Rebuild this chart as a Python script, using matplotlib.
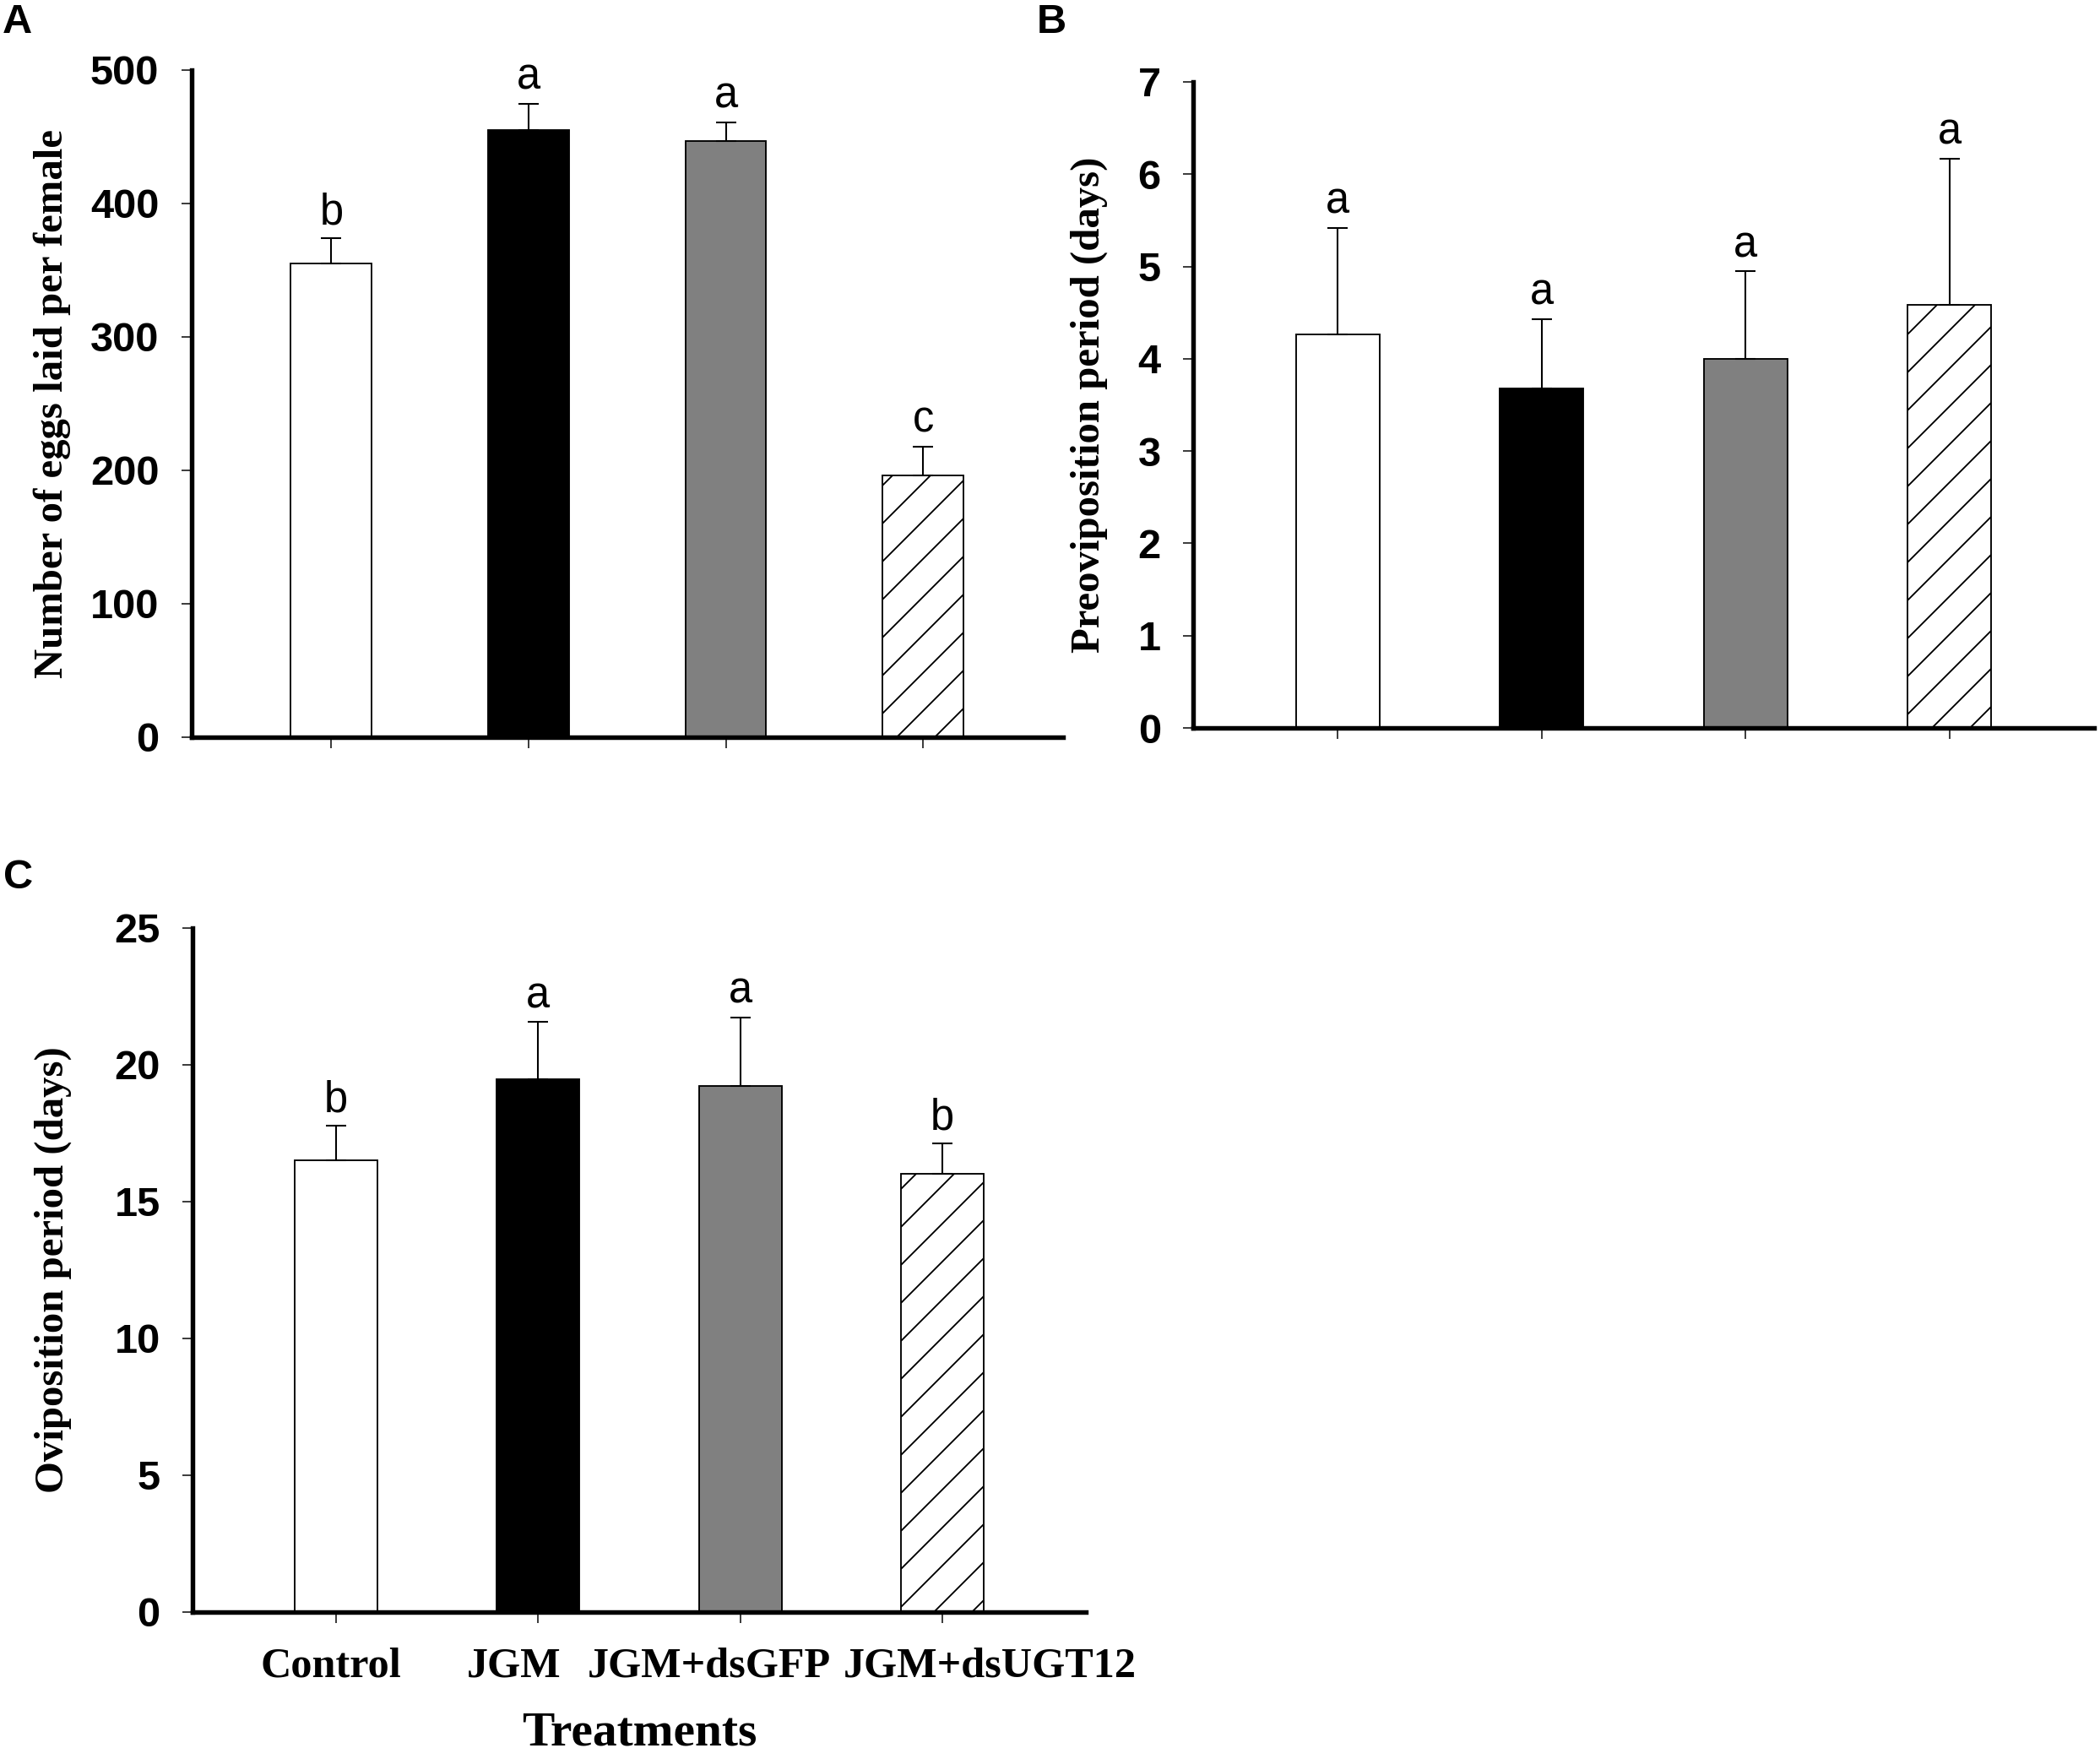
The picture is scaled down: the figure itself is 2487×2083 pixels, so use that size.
import matplotlib
matplotlib.use('Agg')
import matplotlib.pyplot as plt
from matplotlib.transforms import ScaledTranslation

# ---------------- data ----------------
treatments = ['Control', 'JGM', 'JGM+dsGFP', 'JGM+dsUGT12']

eggs_mean = [355, 455, 447, 196]
eggs_err = [19, 20, 14, 22]
eggs_letters = ['b', 'a', 'a', 'c']

preovi_mean = [4.26, 3.68, 4.00, 4.58]
preovi_err = [1.16, 0.75, 0.95, 1.59]
preovi_letters = ['a', 'a', 'a', 'a']

ovi_mean = [16.5, 19.47, 19.23, 16.02]
ovi_err = [1.27, 2.10, 2.51, 1.11]
ovi_letters = ['b', 'a', 'a', 'b']

eggs_ticks = [0, 100, 200, 300, 400, 500]
preovi_ticks = [0, 1, 2, 3, 4, 5, 6, 7]
ovi_ticks = [0, 5, 10, 15, 20, 25]

bar_colors = ['white', 'black', '#808080', 'white']
bar_hatches = ['', '', '', '//']

# horizontal shift (points) of category labels, as placed in the original figure
label_shift_pt = [-1.6, -7.7, -9.9, 14.9]

# ---------------- style ----------------
DPI = 270
W, H = 2487, 2083
plt.rcParams['hatch.linewidth'] = 0.5
SANS = 'Liberation Sans'
SERIF = 'Liberation Serif'

fig = plt.figure(figsize=(W / DPI, H / DPI), dpi=DPI)


def px_axes(left, right, bottom, top):
    return fig.add_axes([left / W, 1 - bottom / H, (right - left) / W, (bottom - top) / H])


def draw_panel(ax, means, errs, letters, ticks, ylabel, label_x, letter_off=4.5):
    x = list(range(len(treatments)))
    ax.bar(x, means, width=0.41, color=bar_colors, edgecolor='black',
           linewidth=0.5, hatch=bar_hatches, zorder=2)
    ax.errorbar(x, means, yerr=[[0] * len(errs), errs], fmt='none', ecolor='black',
                elinewidth=0.55, capsize=3.1, capthick=0.55, zorder=3)
    for xi, m, e, lt in zip(x, means, errs, letters):
        ax.annotate(lt, (xi, m + e), xytext=(0, letter_off), textcoords='offset points',
                    ha='center', va='baseline', fontsize=13.5, family=SANS)
    ax.set_xlim(-0.71, 3.71)
    ax.set_ylim(ticks[0], ticks[-1])
    ax.set_yticks(ticks)
    ax.set_yticklabels([str(t) for t in ticks], fontsize=13, fontweight='bold', family=SANS)
    ax.set_xticks(x)
    for s in ['top', 'right']:
        ax.spines[s].set_visible(False)
    for s in ['left', 'bottom']:
        ax.spines[s].set_linewidth(1.45)
    ax.tick_params(axis='y', direction='out', length=3.2, width=0.4, pad=7)
    ax.tick_params(axis='x', direction='out', length=3.5, width=0.4, pad=7.5)
    ax.set_ylabel(ylabel, fontsize=13, fontweight='bold', family=SERIF)
    ax.yaxis.set_label_coords(label_x, 0.5)


axA = px_axes(226.5, 1259, 873, 83)
draw_panel(axA, eggs_mean, eggs_err, eggs_letters, eggs_ticks,
           'Number of eggs laid per female', -0.138)
axA.set_xticklabels([])

axB = px_axes(1413, 2480, 862, 97)
draw_panel(axB, preovi_mean, preovi_err, preovi_letters, preovi_ticks,
           'Preoviposition period (days)', -0.095)
axB.set_xticklabels([])

axC = px_axes(228, 1286, 1909, 1099)
draw_panel(axC, ovi_mean, ovi_err, ovi_letters, ovi_ticks,
           'Oviposition period (days)', -0.135)
axC.set_xticklabels(treatments, fontsize=13.4, fontweight='bold', family=SERIF)
for lab, dx in zip(axC.get_xticklabels(), label_shift_pt):
    lab.set_transform(lab.get_transform() + ScaledTranslation(dx / 72, 0, fig.dpi_scale_trans))
axC.set_xlabel('Treatments', fontsize=15.3, fontweight='bold', family=SERIF, labelpad=8)

fig.text(3 / W, 1 - 39 / H, 'A', fontsize=13, fontweight='bold', family=SANS, va='baseline')
fig.text(1228 / W, 1 - 39 / H, 'B', fontsize=13, fontweight='bold', family=SANS, va='baseline')
fig.text(4 / W, 1 - 1052 / H, 'C', fontsize=13, fontweight='bold', family=SANS, va='baseline')

fig.savefig('out.png', dpi=DPI)
